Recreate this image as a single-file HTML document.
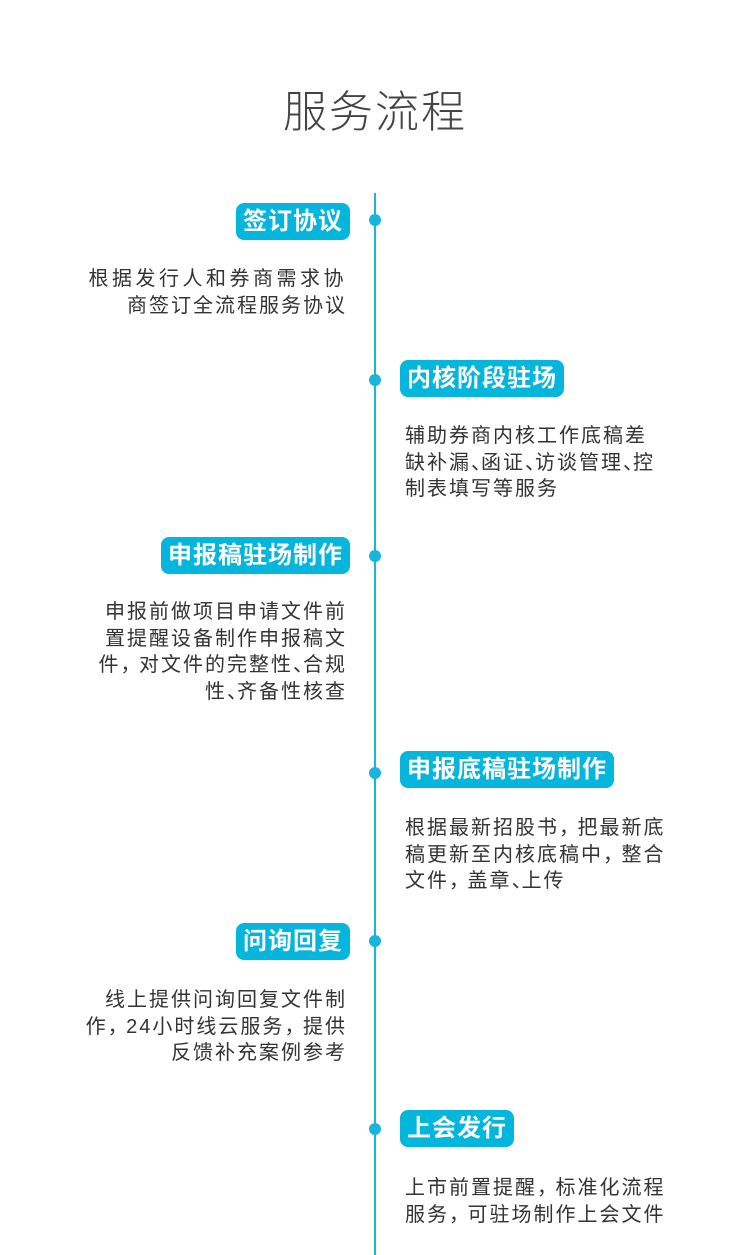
<!DOCTYPE html>
<html><head><meta charset="utf-8"><style>
body{margin:0;width:750px;height:1255px;background:#fff;position:relative;overflow:hidden;font-family:"Liberation Sans","Noto Sans CJK SC",sans-serif}
.title{position:absolute;top:76px;left:0;width:750px;text-align:center;font-size:44px;color:#444;font-weight:300;letter-spacing:2px}
.line{position:absolute;left:374px;top:193px;width:2px;height:1062px;background:#19b5dd}
.dot{position:absolute;left:369px;width:12px;height:12px;border-radius:50%;background:#19b5dd}
.tag{position:absolute;height:37px;line-height:37px;background:#04b6dc;color:#fff;font-weight:bold;font-size:24px;letter-spacing:1px;padding:0 7px;border-radius:8px;white-space:nowrap}
.tl{right:400px}
.tr{left:400px}
.txt{position:absolute;font-size:20px;line-height:26.5px;color:#333;letter-spacing:2px;white-space:nowrap}
.xl{right:403px;text-align:right}
.xr{left:405px}
.p{letter-spacing:-9px}
.d{letter-spacing:-10px}
.w{letter-spacing:3.5px}
</style></head><body>
<div class="title">服务流程</div>
<div class="line"></div>

<div class="dot" style="top:214px"></div>
<div class="tag tl" style="top:203px">签订协议</div>
<div class="txt xl" style="top:266px"><span class="w">根据发行人和券商需求协</span><br>商签订全流程服务协议</div>

<div class="dot" style="top:374px"></div>
<div class="tag tr" style="top:360px">内核阶段驻场</div>
<div class="txt xr" style="top:423px">辅助券商内核工作底稿差<br>缺补漏<span class="d">、</span>函证<span class="d">、</span>访谈管理<span class="d">、</span>控<br>制表填写等服务</div>

<div class="dot" style="top:550px"></div>
<div class="tag tl" style="top:537px">申报稿驻场制作</div>
<div class="txt xl" style="top:599px">申报前做项目申请文件前<br>置提醒设备制作申报稿文<br>件<span class="p">，</span> 对文件的完整性<span class="d">、</span>合规<br>性<span class="d">、</span>齐备性核查</div>

<div class="dot" style="top:767px"></div>
<div class="tag tr" style="top:751px">申报底稿驻场制作</div>
<div class="txt xr" style="top:815px">根据最新招股书<span class="p">，</span> 把最新底<br>稿更新至内核底稿中<span class="p">，</span> 整合<br>文件<span class="p">，</span> 盖章<span class="d">、</span>上传</div>

<div class="dot" style="top:935px"></div>
<div class="tag tl" style="top:923px">问询回复</div>
<div class="txt xl" style="top:987px">线上提供问询回复文件制<br>作<span class="p">，</span> 24小时线云服务<span class="p">，</span> 提供<br>反馈补充案例参考</div>

<div class="dot" style="top:1123px"></div>
<div class="tag tr" style="top:1110px">上会发行</div>
<div class="txt xr" style="top:1175px">上市前置提醒<span class="p">，</span> 标准化流程<br>服务<span class="p">，</span> 可驻场制作上会文件</div>
</body></html>
